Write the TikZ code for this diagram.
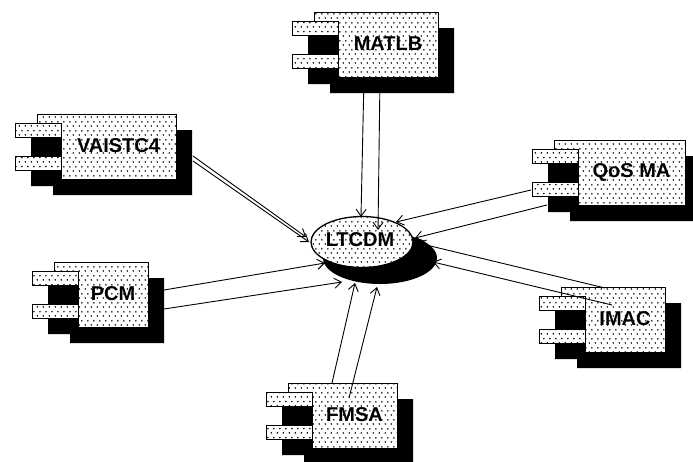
\documentclass[tikz,border=0pt]{standalone}
\usepackage{fontspec}
\setmainfont{Liberation Sans}
\usetikzlibrary{shapes.geometric,arrows.meta,patterns.meta}

\pgfdeclarepattern{
  name=sdots,
  type=uncolored,
  bottom left={\pgfpoint{0pt}{0pt}},
  top right={\pgfpoint{6pt}{9pt}},
  tile size={\pgfpoint{6pt}{9pt}},
  code={
    \pgfpathcircle{\pgfpoint{1.5pt}{2.25pt}}{0.95pt}
    \pgfpathcircle{\pgfpoint{4.5pt}{6.75pt}}{0.95pt}
    \pgfusepath{fill}
  }
}

\tikzset{
  compshadow/.style={fill=black},
  compbody/.style={draw=black, line width=1pt, preaction={fill=white}, pattern=sdots, pattern color=black},
  complabel/.style={font=\fontsize{20}{24}\selectfont\bfseries, inner sep=0pt},
  dep/.style={draw=black, line width=0.9pt, -{Straight Barb[length=7pt,width=10pt]}}
}

\newcommand\umlcomp[5]{%
  \fill[compshadow] ({#2-30},{#3+16}) -- ({#2+#4+16},{#3+16}) -- ({#2+#4+16},{#3+81}) -- ({#2-8},{#3+81}) -- ({#2-8},{#3+72}) -- ({#2-30},{#3+72}) -- cycle;
  \path[compbody] ({#2-24},{#3}) -- ({#2+#4},{#3}) -- ({#2+#4},{#3+65}) -- ({#2},{#3+65}) -- ({#2},{#3+9}) -- ({#2-24},{#3+9}) -- cycle;
  \path[compbody] ({#2-46},{#3+9}) rectangle ({#2},{#3+23});
  \path[compbody] ({#2-46},{#3+42}) rectangle ({#2},{#3+56});
  \node[complabel] (#1) at ({#2+#4/2},{#3+32}) {#5};
}

\begin{document}
\begin{tikzpicture}[x=1pt,y=-1pt]
\useasboundingbox (0,0) rectangle (693,461);
\clip (0,0) rectangle (693,461);

% components
\umlcomp{matlb}{338}{12}{100}{MATLB}
\umlcomp{vaistc}{61}{114}{115}{VAISTC4}
\umlcomp{qosma}{578}{140}{107}{QoS MA}
\umlcomp{imac}{585}{287}{80}{IMAC}
\umlcomp{fmsa}{312}{383}{85}{FMSA}
\umlcomp{pcm}{78}{262}{70}{PCM}

% central component
\fill[compshadow] (380,258) ellipse [x radius=57pt, y radius=26pt];
\node[ellipse, compbody, line width=1.3pt, minimum width=102pt, minimum height=51pt, inner sep=0pt] (ltcdmshape) at (362,242) {};
\node[complabel] (ltcdm) at (360,240) {LTCDM};

% connector end points
\coordinate (matlb-s1) at (364,77);  \coordinate (matlb-e1) at (361,217);
\coordinate (matlb-s2) at (380,77);  \coordinate (matlb-e2) at (378,230);
\coordinate (vaistc-s1) at (193,156); \coordinate (vaistc-e1) at (306,237);
\coordinate (vaistc-s2) at (193,161); \coordinate (vaistc-e2) at (309,242);
\coordinate (qosma-s1) at (531,190); \coordinate (qosma-e1) at (396,222);
\coordinate (qosma-s2) at (547,205); \coordinate (qosma-e2) at (415,238);
\coordinate (imac-s1) at (605,288);  \coordinate (imac-e1) at (418,243);
\coordinate (imac-s2) at (612,305);  \coordinate (imac-e2) at (433,262);
\coordinate (pcm-s1) at (164,290);   \coordinate (pcm-e1) at (325,263);
\coordinate (pcm-s2) at (164,309);   \coordinate (pcm-e2) at (342,282);
\coordinate (fmsa-s1) at (332,383);  \coordinate (fmsa-e1) at (355,283);
\coordinate (fmsa-s2) at (349,398);  \coordinate (fmsa-e2) at (377,287);

\draw[dep] (matlb-s1) -- (matlb-e1);
\draw[dep] (matlb-s2) -- (matlb-e2);
\draw[dep] (vaistc-s1) -- (vaistc-e1);
\draw[dep] (vaistc-s2) -- (vaistc-e2);
\draw[dep] (qosma-s1) -- (qosma-e1);
\draw[dep] (qosma-s2) -- (qosma-e2);
\draw[dep] (imac-s1) -- (imac-e1);
\draw[dep] (imac-s2) -- (imac-e2);
\draw[dep] (pcm-s1) -- (pcm-e1);
\draw[dep] (pcm-s2) -- (pcm-e2);
\draw[dep] (fmsa-s1) -- (fmsa-e1);
\draw[dep] (fmsa-s2) -- (fmsa-e2);
\end{tikzpicture}
\end{document}
